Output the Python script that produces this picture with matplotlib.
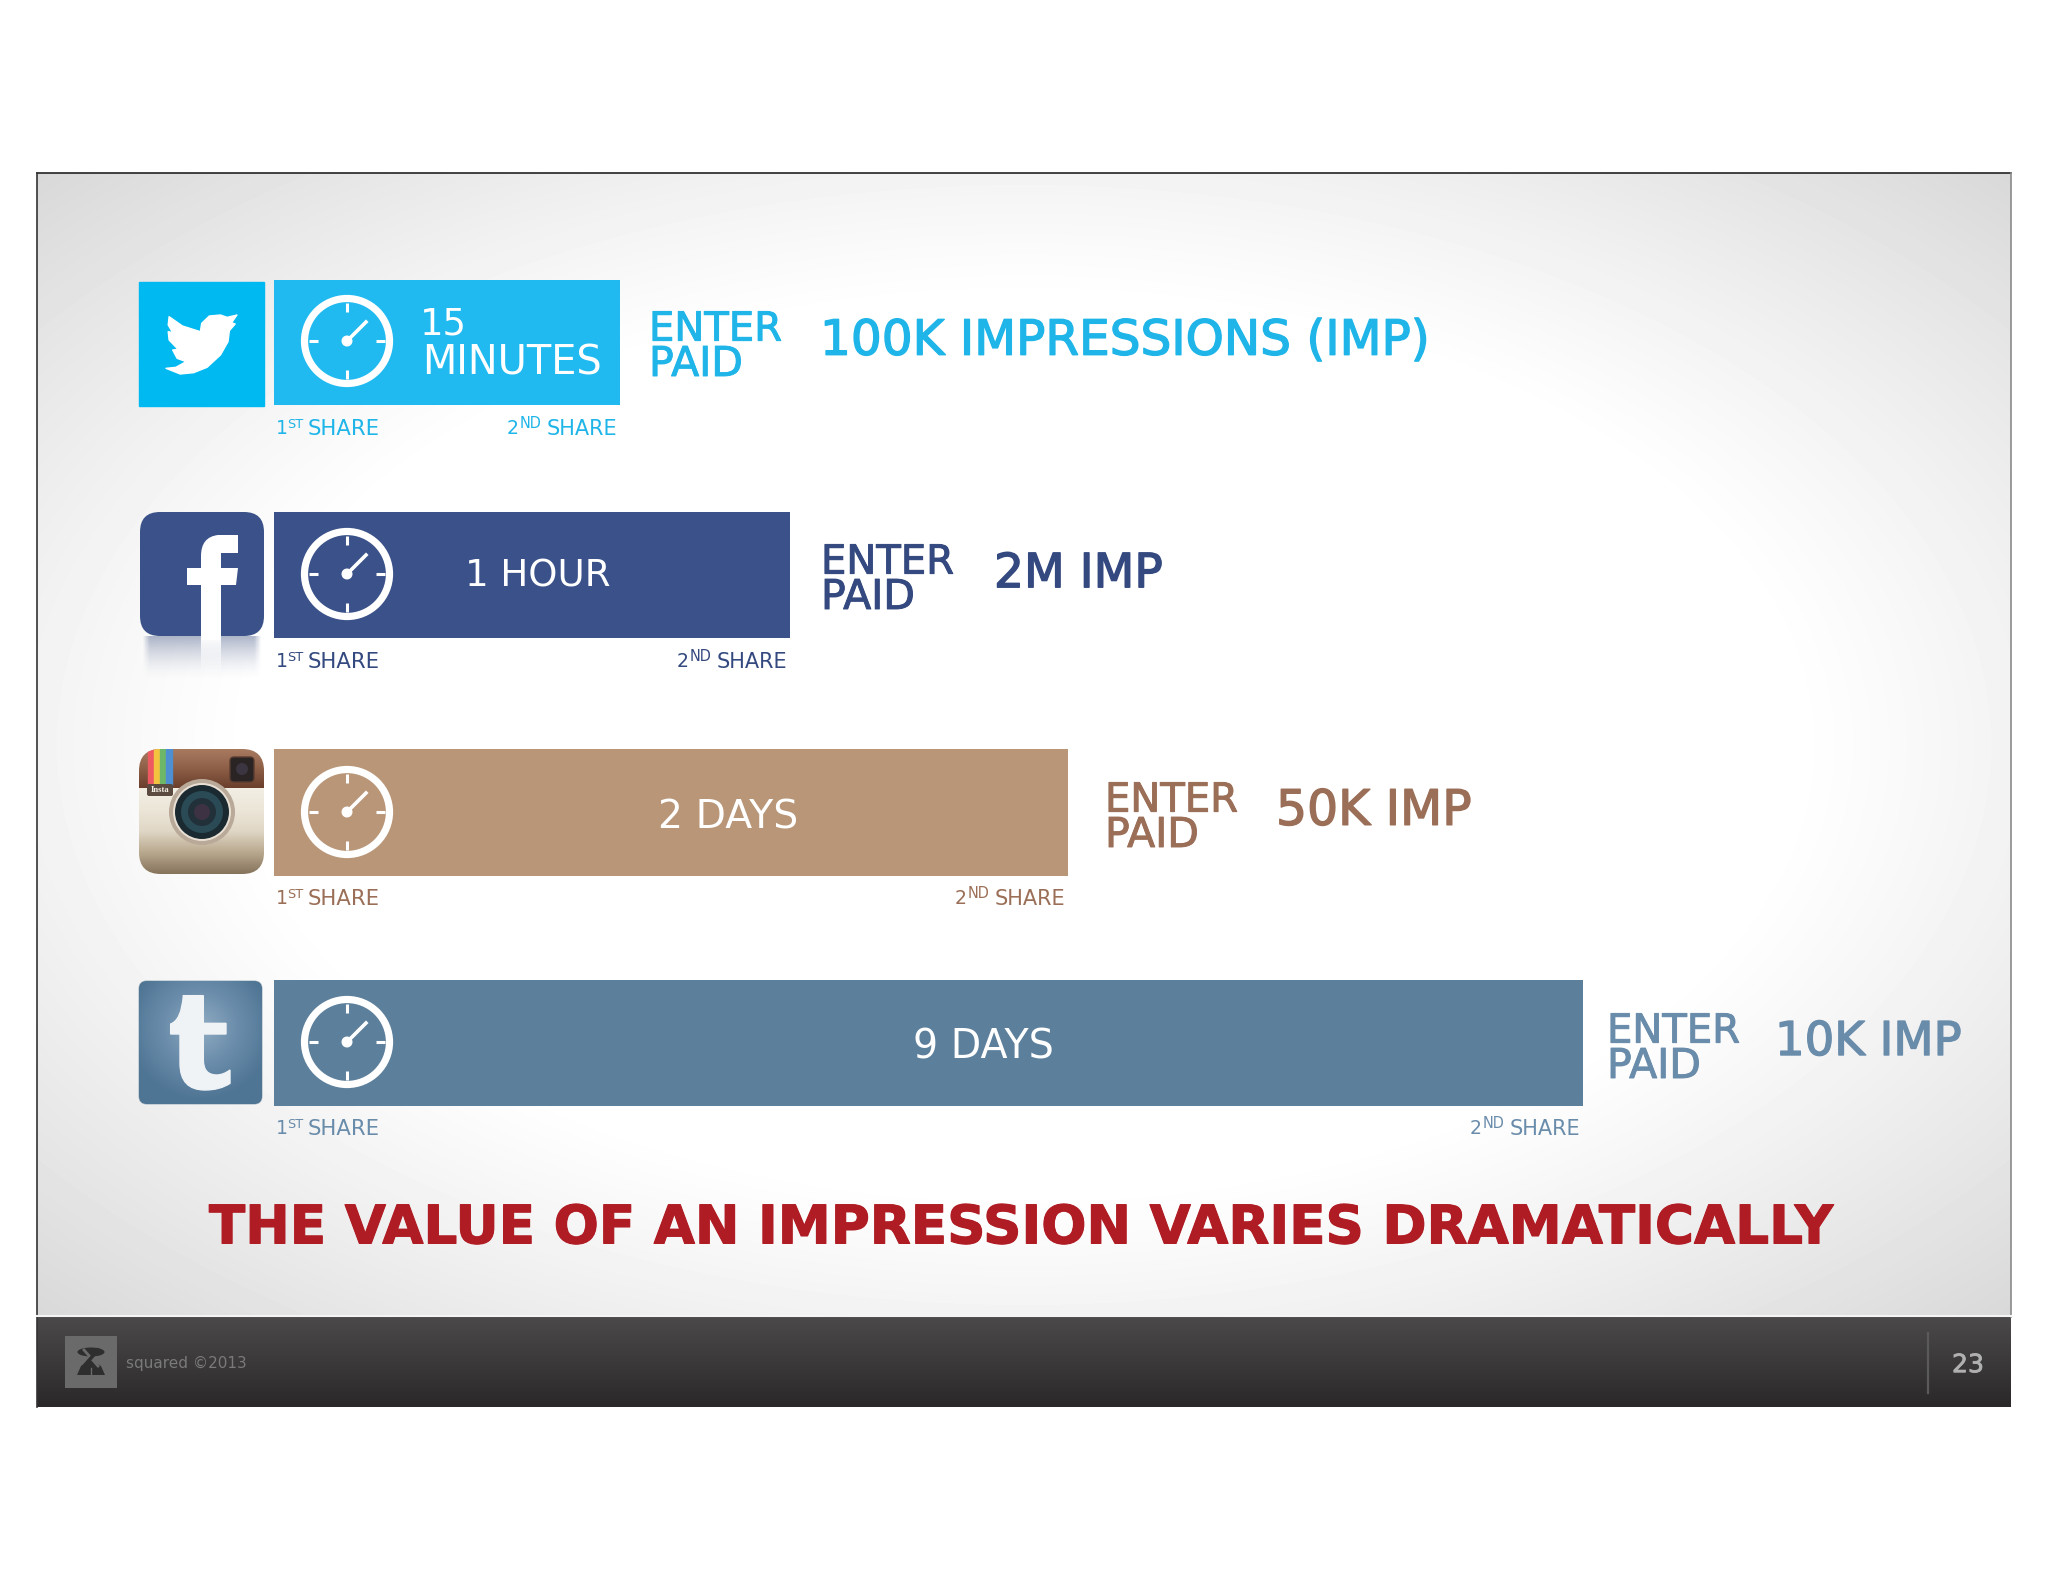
import numpy as np
import matplotlib
matplotlib.use("Agg")
import matplotlib.pyplot as plt
import matplotlib.patheffects as pe
from matplotlib.path import Path
from matplotlib.patches import Rectangle, FancyBboxPatch, Circle, Polygon, Ellipse, PathPatch
from matplotlib.colors import LinearSegmentedColormap

# ---------- data ----------
platforms = ["Twitter", "Facebook", "Instagram", "Tumblr"]
bar_lengths = [346, 516, 794, 1309]
durations = ["15\nMINUTES", "1 HOUR", "2 DAYS", "9 DAYS"]
impressions = ["100K IMPRESSIONS (IMP)", "2M IMP", "50K IMP", "10K IMP"]
bar_colors = ["#20baf0", "#3a5289", "#b99678", "#5c7f9c"]
text_colors = ["#1fb5e8", "#34497f", "#9b6f57", "#6a8cab"]
title = "THE VALUE OF AN IMPRESSION VARIES DRAMATICALLY"
footer = "squared ©2013"
page = "23"

FONT = "DejaVu Sans"
W, H = 2048, 1582
fig = plt.figure(figsize=(W/100, H/100), dpi=100, facecolor="white")
ax = fig.add_axes([0, 0, 1, 1])
ax.set_xlim(0, W); ax.set_ylim(H, 0); ax.axis("off")
renderer = fig.canvas.get_renderer()

def fit_text(x, y, s, width, color, weight="normal", ha="left", stroke=0, z=10):
    """y is the vertical centre of the capitals."""
    t = ax.text(x, y, s, color=color, fontsize=20, family=FONT, weight=weight, ha=ha, va="baseline", zorder=z)
    w = t.get_window_extent(renderer).width
    fs = 20 * width / w
    t.set_fontsize(fs)
    t.set_y(y + 0.365 * fs * 100 / 72)
    if stroke:
        t.set_path_effects([pe.withStroke(linewidth=stroke, foreground=color)])
    return t

# ---------- slide background ----------
SL, SR, ST, SF, SB = 37, 2011, 173, 1317, 1407
yy, xx = np.mgrid[0:1:300j, 0:1:400j]
r = np.sqrt(((xx-.5)/.5)**2 + ((yy-.5)/.5)**2)
grad = 1 - 0.15*np.clip((r-0.78)/(1.41-0.78), 0, 1)**1.1
ax.imshow(grad, extent=(SL, SR, SF, ST), cmap="gray", vmin=0, vmax=1, aspect="auto", zorder=0, interpolation="bilinear")
foot = np.linspace(0, 1, 100)[:, None]
fcm = LinearSegmentedColormap.from_list("f", ["#4b494a", "#3b393a", "#2a2829"])
ax.imshow(foot, extent=(SL, SR, SB, SF), cmap=fcm, aspect="auto", zorder=1)
ax.plot([SL, SR], [ST, ST], color="#222222", lw=1.2, zorder=2)
ax.plot([SL, SL], [ST, SB], color="#333333", lw=1.2, zorder=2)
ax.plot([SR, SR], [ST, SF], color="#8a8a8a", lw=1.2, zorder=2)
ax.plot([SL, SR], [SF-1, SF-1], color="#f4f4f4", lw=1.5, zorder=2)
ax.set_xlim(0, W); ax.set_ylim(H, 0)

# ---------- bars ----------
tops = [279.5, 512, 749, 980]
heights = [125.5, 126, 127, 126]
centers = [341, 574, 812, 1042]
ax.barh(tops, bar_lengths, height=heights, left=274, align="edge", color=bar_colors, zorder=3)

# ---------- clocks ----------
for cy in centers:
    cx = 347
    ax.add_patch(Circle((cx, cy), 42.5, fill=False, ec="white", lw=5.2, zorder=5))
    for dx, dy in [(0, -1), (0, 1), (1, 0), (-1, 0)]:
        ax.plot([cx+dx*29, cx+dx*38], [cy+dy*29, cy+dy*38], color="white", lw=2.2, solid_capstyle="butt", zorder=5)
    ax.plot([cx, cx+19], [cy, cy-19], color="white", lw=2.6, zorder=5)
    ax.add_patch(Circle((cx, cy), 4.8, color="white", zorder=5))

# ---------- bar labels ----------
fit_text(420, 321, "15", 47, "white")
fit_text(422, 360, "MINUTES", 180, "white")
fit_text(538, 573, durations[1], 145, "white", ha="center")
fit_text(728, 814, durations[2], 140, "white", ha="center")
fit_text(983, 1044, durations[3], 141, "white", ha="center")

# ---------- enter paid + impressions ----------
enter_x = [649, 821, 1105, 1607]
enter_y = [326, 559, 797, 1028]
imp_x = [820, 994, 1276, 1775]
imp_y = [337, 570, 807, 1038]
imp_w = [610, 169, 196, 187]
for i in range(4):
    fit_text(enter_x[i], enter_y[i], "ENTER", 133, text_colors[i], stroke=0.7)
    fit_text(enter_x[i], enter_y[i]+35, "PAID", 94, text_colors[i], stroke=0.7)
    fit_text(imp_x[i], imp_y[i], impressions[i], imp_w[i], text_colors[i], stroke=1.0)

# ---------- share labels ----------
share_y = [427, 660, 897, 1127]
for i in range(4):
    c = text_colors[i]
    y = share_y[i]
    right = 274 + bar_lengths[i] - 2
    fit_text(276, y, "1", 12, c)
    fit_text(287, y-4, "ST", 16, c)
    fit_text(308, y, "SHARE", 72, c)
    fit_text(right-111, y, "2", 12, c)
    fit_text(right-98, y-4, "ND", 22, c)
    fit_text(right-71, y, "SHARE", 71, c)

# ---------- title ----------
fit_text(1021, 1224, title, 1620, "#b01c24", weight="bold", stroke=0.8, ha="center")

# ---------- twitter icon ----------
ax.add_patch(Rectangle((139, 282), 125, 124, color="#00b9f1", zorder=3))
bird = np.array([(262,165),(250,188),(258,192),(245,212),(242,245),(225,285),(195,322),(165,338),(135,342),(103,325),
                 (125,322),(148,305),(128,295),(118,270),(130,268),(110,240),(108,215),(118,218),(108,195),(110,170),
                 (140,198),(180,215),(183,190),(200,168),(225,165),(240,172)], float)
bird[:, 0] = 120 + bird[:, 0]/2.24; bird[:, 1] = 260 + bird[:, 1]/3
ax.add_patch(Polygon(bird, closed=True, fc="white", ec="white", lw=1, joinstyle="round", zorder=4))

# ---------- facebook icon ----------
box = FancyBboxPatch((152, 524), 100, 100, boxstyle="round,pad=12,rounding_size=20", fc="#3a5289", ec="none", zorder=3)
ax.add_patch(box)
n = 60
rows = np.linspace(0, 1, n)
cols = np.linspace(-1, 1, 80)
rgba = np.zeros((n, 80, 4)); rgba[..., :3] = (0.42, 0.48, 0.62)
edge = np.clip((1 - np.abs(cols)) / 0.12, 0, 1)
rgba[..., 3] = 0.55 * (1 - rows[:, None])**1.6 * edge[None, :]
ax.imshow(rgba, extent=(142, 262, 680, 636), aspect="auto", zorder=2.5)
f_verts = [(238,535),(218,535),(201,537),(201,556),(201,568),(187,568),(187,585),(201,585),(201,640),(221,640),
           (221,585),(236,585),(238,568),(221,568),(221,558),(221,553),(226,553),(238,553),(238,535)]
f_codes = [Path.MOVETO, Path.LINETO, Path.CURVE3, Path.CURVE3] + [Path.LINETO]*10 + [Path.CURVE3, Path.CURVE3, Path.LINETO, Path.LINETO, Path.CLOSEPOLY]
ax.add_patch(PathPatch(Path(f_verts, f_codes), fc="white", ec="none", zorder=4))
refl = np.ones((n, 1, 4)); refl[:, 0, 3] = np.linspace(1, 0, n)
ax.imshow(refl, extent=(201, 221, 680, 637), aspect="auto", zorder=2.6)

# ---------- instagram icon ----------
ins = FancyBboxPatch((159, 769), 85, 85, boxstyle="round,pad=20,rounding_size=22", fc="#ede7da", ec="none", zorder=3)
ax.add_patch(ins)
cream = LinearSegmentedColormap.from_list("c", ["#f2eee4", "#ece6d8", "#e0d7c6", "#b9a98f", "#86745c"])
g = ax.imshow(np.linspace(0, 1, 80)[:, None], extent=(139, 264, 874, 788), cmap=cream, aspect="auto", zorder=3.1)
g.set_clip_path(ins)
brown = LinearSegmentedColormap.from_list("b", ["#a77a60", "#8d5f47", "#6b3f2c"])
g = ax.imshow(np.linspace(0, 1, 40)[:, None], extent=(139, 264, 788, 749), cmap=brown, aspect="auto", zorder=3.1)
g.set_clip_path(ins)
for x0, col in zip([148, 154, 160, 166], ["#ee5a62", "#f3c33f", "#6fb768", "#4d8fd0"]):
    p = Rectangle((x0, 749), 6, 36, color=col, zorder=3.2)
    ax.add_patch(p); p.set_clip_path(ins)
ax.add_patch(FancyBboxPatch((149, 786), 22, 8, boxstyle="round,pad=2,rounding_size=2", fc="#5b4a3f", ec="none", zorder=3.3))
ax.text(160, 790, "Insta", color="#f4efe5", fontsize=6.2, family="Liberation Serif", weight="bold", ha="center", va="center", zorder=3.4)
ax.add_patch(FancyBboxPatch((233, 760), 18, 19, boxstyle="round,pad=3,rounding_size=4", fc="#2a2424", ec="#5a3c30", lw=1, zorder=3.3))
ax.add_patch(Circle((242, 769), 6, fc="#3a3540", ec="none", zorder=3.4))
for rad, col in [(33, "#b9a999"), (29, "#e8e0d4"), (27, "#1a2a30"), (21, "#2a4a55"), (14, "#22303a"), (8, "#3d3244")]:
    ax.add_patch(Circle((202, 812), rad, fc=col, ec="none", zorder=3.5))

# ---------- tumblr icon ----------
tb = FancyBboxPatch((145, 987), 111, 111, boxstyle="round,pad=6,rounding_size=8", fc="#5c7f9c", ec="#a9b8c4", lw=0.8, zorder=3)
ax.add_patch(tb)
yy, xx = np.mgrid[-1:1:80j, -1:1:80j]
tcm = LinearSegmentedColormap.from_list("t", ["#8fabc2", "#6b8dab", "#4f7594"])
g = ax.imshow(np.clip(np.sqrt(xx**2 + (yy+.25)**2)/1.2, 0, 1), extent=(139, 262, 1104, 981), cmap=tcm, aspect="auto", zorder=3.1)
g.set_clip_path(tb)
t_verts = np.array([(190,797),(250,797),(250,880),(318,880),(318,912),(250,912),(250,990),(250,1035),(290,1035),(310,1035),(330,1020),
                    (330,1060),(300,1080),(255,1080),(180,1080),(180,1000),(180,912),(152,912),(152,882),(185,870),(190,797),(190,797)], float)
t_codes = [Path.MOVETO] + [Path.LINETO]*6 + [Path.CURVE3]*4 + [Path.LINETO] + [Path.CURVE3]*4 + [Path.LINETO]*3 + [Path.CURVE3]*2 + [Path.CLOSEPOLY]
t_verts[:, 0] = 120 + t_verts[:, 0]/3; t_verts[:, 1] = 730 + t_verts[:, 1]/3
ax.add_patch(PathPatch(Path(t_verts, t_codes), fc="#eff3f6", ec="#eff3f6", lw=1, zorder=3.5))

# ---------- footer ----------
ax.add_patch(Rectangle((65, 1336), 52, 52, fc="#6a6a6a", ec="none", zorder=3))
ax.add_patch(Ellipse((91, 1352), 27, 9, fc="#2e2e2e", ec="none", zorder=4))
ax.add_patch(Polygon([(77,1375),(81,1366),(91,1360),(101,1366),(105,1375)], closed=True, fc="#2e2e2e", ec="none", zorder=4))
ax.plot([84, 98], [1350, 1366], color="#6a6a6a", lw=2, zorder=5)
ax.plot([98, 84], [1350, 1366], color="#2e2e2e", lw=2.5, zorder=5)
ax.plot([91, 91], [1368, 1375], color="#6a6a6a", lw=1, zorder=5)
fit_text(126, 1362, footer, 121, "#7a7a7a")
ax.plot([1928, 1928], [1333, 1393], color="#5a5a5b", lw=1.6, zorder=3)
fit_text(1952, 1363, page, 32, "#b0b0b0", stroke=0.6)

fig.savefig("out.png", dpi=100, facecolor="white")
